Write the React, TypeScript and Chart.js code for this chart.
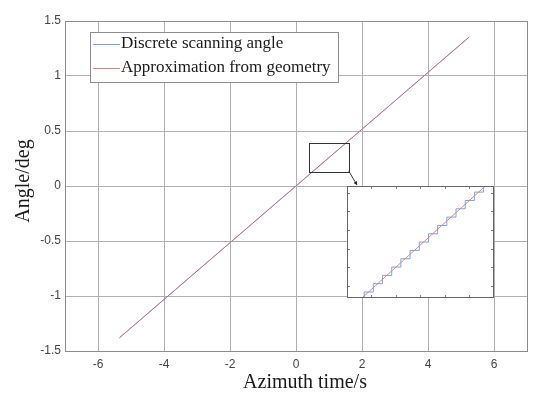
import { useEffect, useRef } from "react";
import { Chart, registerables } from "chart.js";

Chart.register(...registerables);

// ---- data ----
const xTicks = [-6, -4, -2, 0, 2, 4, 6];
const yTicks = [-1.5, -1, -0.5, 0, 0.5, 1, 1.5];
const xRange = [-7, 7];
const yRange = [-1.5, 1.5];
const seriesNames = ["Discrete scanning angle", "Approximation from geometry"];
const discreteTime = [-5.35, 5.25];
const discreteAngle = [-1.38, 1.355];
const approxTime = [-5.35, 5.25];
const approxAngle = [-1.38, 1.355];
const zoomTimeRange = [0.4, 1.6];
const zoomAngleRange = [0.135, 0.395];
const stepTime = [0.39, 0.465, 0.54, 0.615, 0.69, 0.765, 0.84, 0.915, 0.99, 1.065, 1.14, 1.215, 1.29, 1.365, 1.44, 1.515, 1.59];
const stepAngle = [0.1102, 0.1295, 0.1488, 0.1682, 0.1875, 0.2068, 0.2261, 0.2455, 0.2648, 0.2841, 0.3034, 0.3228, 0.3421, 0.3614, 0.3808, 0.4001, 0.4194];
const zoomTimeTicks = [0.6, 0.8, 1.0, 1.2, 1.4];
const zoomAngleTicks = [0.163, 0.206, 0.249, 0.293, 0.336, 0.379];

// ---- styles ----
const W = 550;
const H = 399;
const INSET = { left: 347, top: 186, width: 147, height: 112 };
const BLUE = "#7aa6d2";
const RED = "#d98585";
const GRID = "#b0b0b0";
const SERIF = '"Liberation Serif", "Times New Roman", serif';
const SANS = '"Liberation Sans", Arial, sans-serif';

const pts = (xs: number[], ys: number[]) => xs.map((x, i) => ({ x, y: ys[i] }));

const mainDecor = {
  id: "mainDecor",
  afterDraw(chart: any) {
    const ctx = chart.ctx;
    const { left, right, top, bottom } = chart.chartArea;
    const xs = chart.scales.x;
    const ys = chart.scales.y;
    ctx.save();
    // frame
    ctx.strokeStyle = "#8c8c8c";
    ctx.lineWidth = 1;
    ctx.strokeRect(Math.round(left) + 0.5, Math.round(top) + 0.5, Math.round(right - left), Math.round(bottom - top));

    // zoom box
    const bx0 = xs.getPixelForValue(zoomTimeRange[0]);
    const bx1 = xs.getPixelForValue(zoomTimeRange[1]);
    const by0 = ys.getPixelForValue(zoomAngleRange[1]);
    const by1 = ys.getPixelForValue(zoomAngleRange[0]);
    ctx.strokeStyle = "#333";
    ctx.strokeRect(Math.round(bx0) + 0.5, Math.round(by0) + 0.5, Math.round(bx1 - bx0), Math.round(by1 - by0));

    // arrow
    const ax0 = bx1, ay0 = by1;
    const ax1 = INSET.left + 10, ay1 = INSET.top - 1;
    ctx.beginPath();
    ctx.moveTo(ax0, ay0);
    ctx.lineTo(ax1, ay1);
    ctx.stroke();
    const ang = Math.atan2(ay1 - ay0, ax1 - ax0);
    ctx.fillStyle = "#222";
    ctx.beginPath();
    ctx.moveTo(ax1, ay1);
    ctx.lineTo(ax1 - 4 * Math.cos(ang - 0.5), ay1 - 4 * Math.sin(ang - 0.5));
    ctx.lineTo(ax1 - 4 * Math.cos(ang + 0.5), ay1 - 4 * Math.sin(ang + 0.5));
    ctx.closePath();
    ctx.fill();

    // legend
    const lx = 90, ly = 32, lw = 248, lh = 50;
    ctx.fillStyle = "#fff";
    ctx.fillRect(lx, ly, lw, lh);
    ctx.strokeStyle = "#8c8c8c";
    ctx.strokeRect(lx + 0.5, ly + 0.5, lw, lh);
    const rows = [ly + 12, ly + 36];
    const cols = [BLUE, RED];
    ctx.font = `17px ${SERIF}`;
    ctx.textBaseline = "middle";
    ctx.textAlign = "left";
    rows.forEach((ry, i) => {
      ctx.strokeStyle = cols[i];
      ctx.beginPath();
      ctx.moveTo(lx + 3, ry + 0.5);
      ctx.lineTo(lx + 30, ry + 0.5);
      ctx.stroke();
      ctx.fillStyle = "#1a1a1a";
      ctx.fillText(seriesNames[i], lx + 31, ry);
    });

    // axis titles
    ctx.fillStyle = "#1a1a1a";
    ctx.font = `20px ${SERIF}`;
    ctx.textAlign = "center";
    ctx.textBaseline = "middle";
    ctx.fillText("Azimuth time/s", 305, 383);
    ctx.translate(24, 181);
    ctx.rotate(-Math.PI / 2);
    ctx.fillText("Angle/deg", 0, 0);
    ctx.restore();
  },
};

const insetDecor = {
  id: "insetDecor",
  beforeDraw(chart: any) {
    const ctx = chart.ctx;
    ctx.save();
    ctx.fillStyle = "#fff";
    ctx.fillRect(0, 0, chart.width, chart.height);
    ctx.restore();
  },
  afterDraw(chart: any) {
    const ctx = chart.ctx;
    const xs = chart.scales.x;
    const ys = chart.scales.y;
    const w = chart.width, h = chart.height;
    ctx.save();
    ctx.strokeStyle = "#7a7a7a";
    ctx.lineWidth = 1;
    const tl = 3;
    zoomTimeTicks.forEach((v) => {
      const px = Math.round(xs.getPixelForValue(v)) + 0.5;
      ctx.beginPath();
      ctx.moveTo(px, 0); ctx.lineTo(px, tl);
      ctx.moveTo(px, h); ctx.lineTo(px, h - tl);
      ctx.stroke();
    });
    zoomAngleTicks.forEach((v) => {
      const py = Math.round(ys.getPixelForValue(v)) + 0.5;
      ctx.beginPath();
      ctx.moveTo(0, py); ctx.lineTo(tl, py);
      ctx.moveTo(w, py); ctx.lineTo(w - tl, py);
      ctx.stroke();
    });
    ctx.strokeStyle = "#666";
    ctx.strokeRect(0.5, 0.5, w - 1, h - 1);
    ctx.restore();
  },
};

export default function App() {
  const mainRef = useRef<HTMLCanvasElement>(null);
  const insetRef = useRef<HTMLCanvasElement>(null);

  useEffect(() => {
    const tickFont = { family: SANS, size: 12 };
    const main = new Chart(mainRef.current!, {
      type: "line",
      data: {
        datasets: [
          { label: seriesNames[0], data: pts(discreteTime, discreteAngle), borderColor: "#7aa0cc", borderWidth: 1, pointRadius: 0, order: 2 },
          { label: seriesNames[1], data: pts(approxTime, approxAngle), borderColor: "rgba(190,100,120,0.7)", borderWidth: 1, pointRadius: 0, order: 1 },
        ],
      },
      options: {
        animation: false,
        responsive: false,
        devicePixelRatio: 1,
        layout: { padding: { top: 21, right: 23, left: 0, bottom: 0 } },
        plugins: { legend: { display: false }, tooltip: { enabled: false } },
        scales: {
          x: {
            type: "linear",
            min: xRange[0],
            max: xRange[1],
            afterBuildTicks: (s: any) => { s.ticks = xTicks.map((v) => ({ value: v })); },
            afterFit: (s: any) => { s.height = 48; },
            grid: { color: GRID, drawTicks: false },
            border: { display: false },
            ticks: { padding: 6, font: tickFont, color: "#444", maxRotation: 0, autoSkip: false, callback: (v: any) => String(v) },
          },
          y: {
            type: "linear",
            min: yRange[0],
            max: yRange[1],
            afterBuildTicks: (s: any) => { s.ticks = yTicks.map((v) => ({ value: v })); },
            afterFit: (s: any) => { s.width = 65; },
            grid: { color: GRID, drawTicks: false },
            border: { display: false },
            ticks: { padding: 4, font: tickFont, color: "#444", autoSkip: false, callback: (v: any) => String(v) },
          },
        },
      } as any,
      plugins: [mainDecor],
    });

    const inset = new Chart(insetRef.current!, {
      type: "line",
      data: {
        datasets: [
          { label: seriesNames[0], data: pts(stepTime, stepAngle), stepped: true, borderColor: BLUE, borderWidth: 1, pointRadius: 0, order: 2 },
          { label: seriesNames[1], data: pts(approxTime, approxAngle), borderColor: RED, borderWidth: 1, pointRadius: 0, order: 1 },
        ],
      },
      options: {
        animation: false,
        responsive: false,
        devicePixelRatio: 1,
        layout: { padding: 0 },
        plugins: { legend: { display: false }, tooltip: { enabled: false } },
        scales: {
          x: { type: "linear", display: false, min: zoomTimeRange[0], max: zoomTimeRange[1] },
          y: { type: "linear", display: false, min: zoomAngleRange[0], max: zoomAngleRange[1] },
        },
      } as any,
      plugins: [insetDecor],
    });

    return () => {
      main.destroy();
      inset.destroy();
    };
  }, []);

  return (
    <div style={{ position: "absolute", left: 0, top: 0, width: W, height: H, background: "#fff" }}>
      <canvas ref={mainRef} width={W} height={H} style={{ position: "absolute", left: 0, top: 0 }} />
      <canvas
        ref={insetRef}
        width={INSET.width}
        height={INSET.height}
        style={{ position: "absolute", left: INSET.left, top: INSET.top }}
      />
    </div>
  );
}
